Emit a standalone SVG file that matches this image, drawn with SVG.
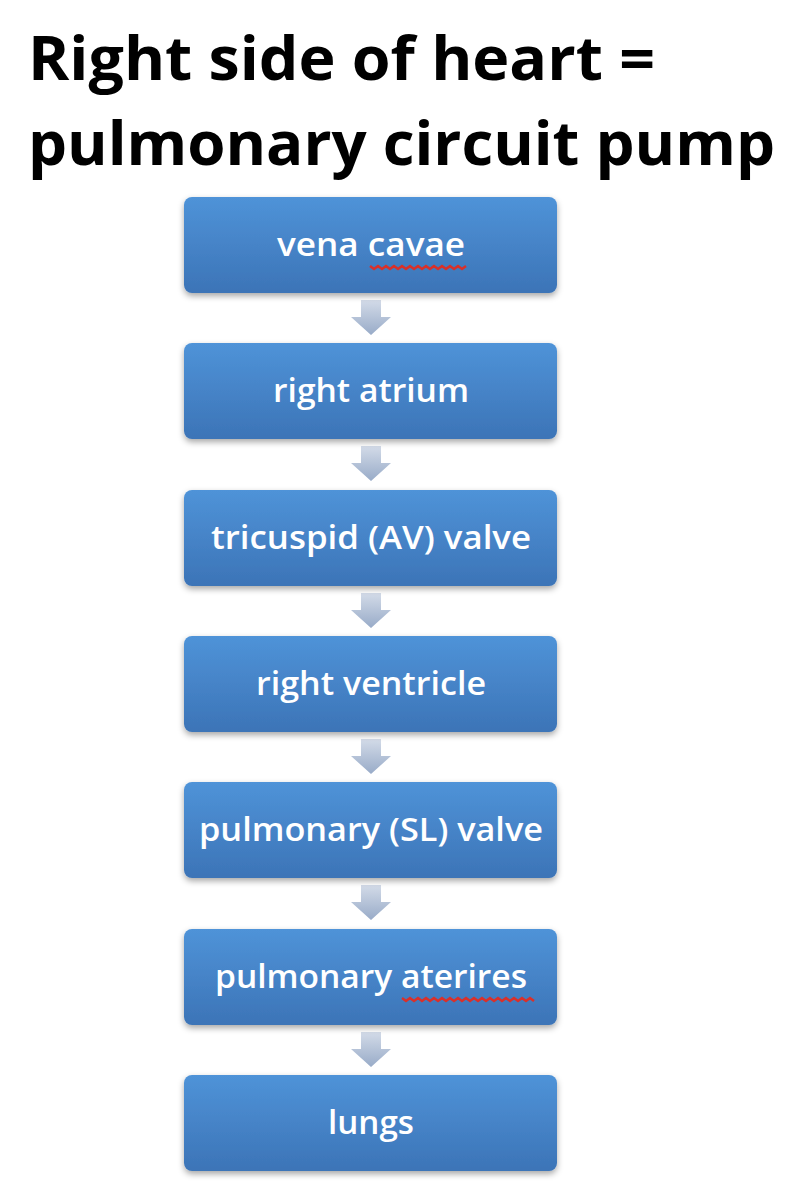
<svg xmlns="http://www.w3.org/2000/svg" width="804" height="1200" viewBox="0 0 804 1200">
<style>
.title{font-family:"Open Sans","Liberation Sans",sans-serif;font-weight:700;font-size:60px;fill:#000}
.lbl{font-family:"Open Sans","Liberation Sans",sans-serif;font-weight:600;font-size:32px;fill:#fff;text-anchor:middle}
.box{fill:url(#bg);filter:url(#sh)}
.arr{fill:url(#ag)}
.sq{fill:none;stroke:#d9302a;stroke-width:2.5}
</style>
<defs>
<linearGradient id="bg" x1="0" y1="0" x2="0" y2="1">
<stop offset="0" stop-color="#4f93d8"/>
<stop offset="1" stop-color="#3c74b7"/>
</linearGradient>
<linearGradient id="ag" x1="0" y1="0" x2="0" y2="1">
<stop offset="0" stop-color="#d3dbe8"/>
<stop offset="1" stop-color="#98abc8"/>
</linearGradient>
<filter id="sh" x="-10%" y="-10%" width="120%" height="130%">
<feDropShadow dx="0" dy="3" stdDeviation="3" flood-color="#000" flood-opacity="0.35"/>
</filter>
<path id="arrow" d="M-10,0 H10 V17 H20 L0,35 L-20,17 H-10 Z"/>
</defs>
<rect width="804" height="1200" fill="#fff"/>
<text class="title" x="28" y="80" textLength="627" lengthAdjust="spacingAndGlyphs">Right side of heart =</text>
<text class="title" x="28" y="165" textLength="747" lengthAdjust="spacingAndGlyphs">pulmonary circuit pump</text>
<g id="connectors">
<use href="#arrow" class="arr" x="371" y="300"/>
<use href="#arrow" class="arr" x="371" y="446"/>
<use href="#arrow" class="arr" x="371" y="593"/>
<use href="#arrow" class="arr" x="371" y="739"/>
<use href="#arrow" class="arr" x="371" y="885"/>
<use href="#arrow" class="arr" x="371" y="1032"/>
</g>
<g id="n1"><rect class="box" x="184" y="197" width="373" height="96" rx="8"/><text class="lbl" x="371" y="256" textLength="188" lengthAdjust="spacingAndGlyphs">vena cavae</text>
<path class="sq" d="M370,266 l4,3 l4,-3 l4,3 l4,-3 l4,3 l4,-3 l4,3 l4,-3 l4,3 l4,-3 l4,3 l4,-3 l4,3 l4,-3 l4,3 l4,-3 l4,3 l4,-3 l4,3 l4,-3 l4,3 l4,-3 l4,3 l4,-3"/></g>
<g id="n2"><rect class="box" x="184" y="343" width="373" height="96" rx="8"/><text class="lbl" x="371" y="402" textLength="196" lengthAdjust="spacingAndGlyphs">right atrium</text></g>
<g id="n3"><rect class="box" x="184" y="490" width="373" height="96" rx="8"/><text class="lbl" x="371" y="549" textLength="320" lengthAdjust="spacingAndGlyphs">tricuspid (AV) valve</text></g>
<g id="n4"><rect class="box" x="184" y="636" width="373" height="96" rx="8"/><text class="lbl" x="371" y="695" textLength="230" lengthAdjust="spacingAndGlyphs">right ventricle</text></g>
<g id="n5"><rect class="box" x="184" y="782" width="373" height="96" rx="8"/><text class="lbl" x="371" y="841" textLength="344" lengthAdjust="spacingAndGlyphs">pulmonary (SL) valve</text></g>
<g id="n6"><rect class="box" x="184" y="929" width="373" height="96" rx="8"/><text class="lbl" x="371" y="988" textLength="312" lengthAdjust="spacingAndGlyphs">pulmonary aterires</text>
<path class="sq" d="M402,998 l4,3 l4,-3 l4,3 l4,-3 l4,3 l4,-3 l4,3 l4,-3 l4,3 l4,-3 l4,3 l4,-3 l4,3 l4,-3 l4,3 l4,-3 l4,3 l4,-3 l4,3 l4,-3 l4,3 l4,-3 l4,3 l4,-3 l4,3 l4,-3 l4,3 l4,-3 l4,3 l4,-3 l4,3 l4,-3 l4,3"/></g>
<g id="n7"><rect class="box" x="184" y="1075" width="373" height="96" rx="8"/><text class="lbl" x="371" y="1134" textLength="86" lengthAdjust="spacingAndGlyphs">lungs</text></g>
</svg>
